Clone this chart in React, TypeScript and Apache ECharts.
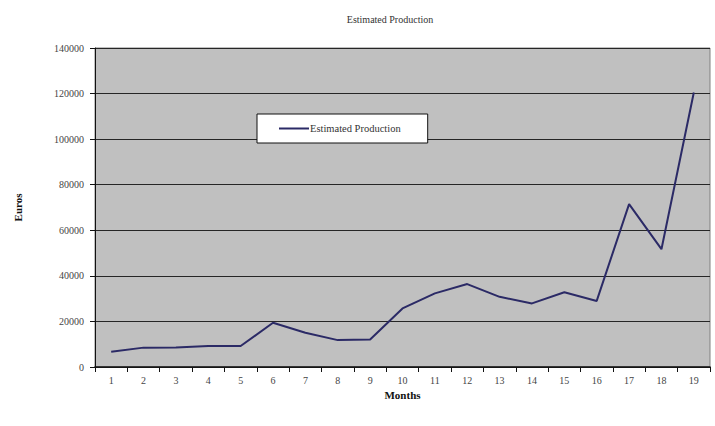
import React, { useEffect, useRef } from "react";
import * as echarts from "echarts";

const months = ["1", "2", "3", "4", "5", "6", "7", "8", "9", "10", "11", "12", "13", "14", "15", "16", "17", "18", "19"];
const production = [6700, 8500, 8600, 9200, 9200, 19400, 15000, 11800, 12100, 25700, 32300, 36400, 30800, 27900, 32800, 29000, 71500, 51700, 120500];

const serif = "'Liberation Serif', 'DejaVu Serif', serif";

export default function App() {
  const ref = useRef<HTMLDivElement>(null);

  useEffect(() => {
    const chart = echarts.init(ref.current!, null, { renderer: "svg" });
    chart.setOption({
      animation: false,
      backgroundColor: "#ffffff",
      title: {
        text: "Estimated Production",
        left: 385,
        top: 9,
        textAlign: "center",
        textStyle: { fontFamily: serif, fontSize: 10, fontWeight: "normal", color: "#333" },
      },
      legend: {
        left: 257,
        top: 114,
        padding: [9, 27, 9, 22],
        backgroundColor: "#ffffff",
        borderColor: "#111",
        borderWidth: 1,
        icon: "rect",
        itemWidth: 30,
        itemHeight: 2,
        itemGap: 0,
        textStyle: { fontFamily: serif, fontSize: 10.5, color: "#333", padding: [0, 0, 0, -4] },
        data: ["Estimated Production"],
      },
      grid: {
        left: 95,
        right: 5,
        top: 48,
        bottom: 59,
        show: true,
        backgroundColor: "#c0c0c0",
        borderColor: "#808080",
        borderWidth: 1,
      },
      xAxis: {
        type: "category",
        data: months,
        boundaryGap: true,
        name: "Months",
        nameLocation: "middle",
        nameGap: 19,
        nameTextStyle: { fontFamily: serif, fontSize: 11, fontWeight: "bold", color: "#111" },
        axisLine: { lineStyle: { color: "#111", width: 1.5 } },
        axisTick: { show: true, length: 5, lineStyle: { color: "#111" } },
        axisLabel: { fontFamily: serif, fontSize: 10, color: "#444", margin: 8 },
      },
      yAxis: {
        type: "value",
        min: 0,
        max: 140000,
        interval: 20000,
        name: "Euros",
        nameLocation: "middle",
        nameGap: 72,
        nameRotate: 90,
        nameTextStyle: { fontFamily: serif, fontSize: 11, fontWeight: "bold", color: "#111" },
        axisLine: { show: true, lineStyle: { color: "#111", width: 1 } },
        axisTick: { show: true, length: 5, lineStyle: { color: "#111" } },
        axisLabel: {
          fontFamily: serif,
          fontSize: 10,
          color: "#444",
          margin: 11,
          formatter: (v: number) => String(v),
        },
        splitLine: { show: true, lineStyle: { color: "#262626", width: 1 } },
      },
      series: [
        {
          name: "Estimated Production",
          type: "line",
          data: production,
          symbol: "none",
          lineStyle: { color: "#2b2a66", width: 2 },
          itemStyle: { color: "#2b2a66" },
        },
      ],
    });
    return () => chart.dispose();
  }, []);

  return <div ref={ref} style={{ width: 715, height: 426, position: "absolute", left: 0, top: 0 }} />;
}
